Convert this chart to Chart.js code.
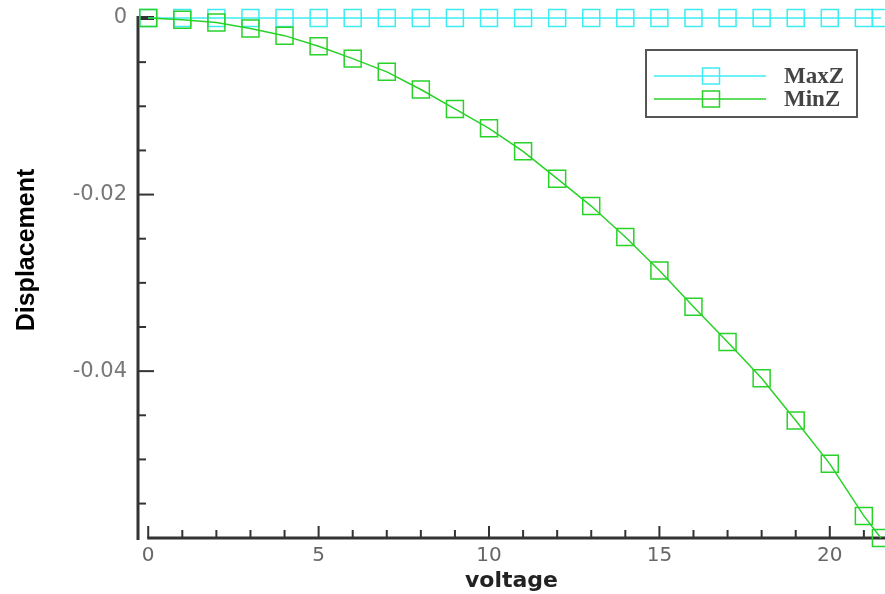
<!DOCTYPE html>
<html>
<head>
<meta charset="utf-8">
<script src="https://cdn.jsdelivr.net/npm/chart.js@4.4.0/dist/chart.umd.min.js"></script>
<style>
  body { margin: 0; background: #fff; }
  #wrap { width: 885px; height: 594px; }
</style>
</head>
<body>
<div id="wrap"><canvas id="myChart" width="885" height="594"></canvas></div>
<script>
// dati
var voltage = [0, 1, 2, 3, 4, 5, 6, 7, 8, 9, 10, 11, 12, 13, 14, 15, 16, 17, 18, 19, 20, 21, 21.5];
var maxZ = [0, 0, 0, 0, 0, 0, 0, 0, 0, 0, 0, 0, 0, 0, 0, 0, 0, 0, 0, 0, 0, 0, 0];
var minZ = [0, -0.0002, -0.0005, -0.0012, -0.0020, -0.0032, -0.0046, -0.0061, -0.0081, -0.0103,
            -0.0125, -0.0151, -0.0182, -0.0213, -0.0248, -0.0286, -0.0327, -0.0367, -0.0408,
            -0.0456, -0.0505, -0.0564, -0.0589];
var seriesNames = ['MaxZ', 'MinZ'];
var xTicks = [0, 5, 10, 15, 20];
var yTicks = [0, -0.02, -0.04];

var ciano = 'rgb(60,236,240)';
var verde = 'rgb(40,210,40)';

function punti(xs, ys) {
  var out = [];
  for (var i = 0; i < xs.length; i++) {
    out.push({x: xs[i], y: ys[i]});
  }
  return out;
}

// assi, tacche e titolo verticale
var assiPlugin = {
  id: 'assi',
  beforeDatasetsDraw: function(chart) {
    var ctx = chart.ctx;
    var a = chart.chartArea;
    var xs = chart.scales.x;
    var ys = chart.scales.y;
    ctx.save();
    ctx.strokeStyle = '#333';
    ctx.lineWidth = 3;
    ctx.beginPath();
    ctx.moveTo(a.left, a.top - 2);
    ctx.lineTo(a.left, a.bottom + 2);
    ctx.stroke();
    ctx.beginPath();
    ctx.moveTo(xs.getPixelForValue(0) - 1, a.bottom);
    ctx.lineTo(a.right, a.bottom);
    ctx.stroke();

    ctx.lineWidth = 2;
    for (var v = 0; v <= xs.max; v++) {
      var px = xs.getPixelForValue(v);
      var len = (v % 5 === 0) ? 12 : 8;
      ctx.beginPath();
      ctx.moveTo(px, a.bottom);
      ctx.lineTo(px, a.bottom - len);
      ctx.stroke();
    }
    for (var k = 0; k * 0.005 <= -ys.min; k++) {
      var py = ys.getPixelForValue(-k * 0.005);
      var l = (k % 4 === 0) ? 16 : 8;
      ctx.lineWidth = (k === 0) ? 4 : 2;
      ctx.beginPath();
      ctx.moveTo(a.left, py);
      ctx.lineTo(a.left + l, py);
      ctx.stroke();
    }

    ctx.translate(27, 250);
    ctx.rotate(-Math.PI / 2);
    ctx.fillStyle = '#000';
    ctx.font = 'bold 25px "Liberation Sans"';
    ctx.textAlign = 'center';
    ctx.textBaseline = 'middle';
    ctx.fillText('Displacement', 0, 0);
    ctx.restore();
  }
};

// legenda stile tecplot
var legendaPlugin = {
  id: 'legenda',
  afterDraw: function(chart) {
    var ctx = chart.ctx;
    ctx.save();
    ctx.strokeStyle = '#555';
    ctx.lineWidth = 2;
    ctx.strokeRect(646, 50, 211, 67);
    var righe = [76, 99];
    chart.data.datasets.forEach(function(ds, i) {
      var y = righe[i];
      ctx.strokeStyle = ds.borderColor;
      ctx.lineWidth = 1.5;
      ctx.beginPath();
      ctx.moveTo(654, y);
      ctx.lineTo(766, y);
      ctx.stroke();
      ctx.strokeRect(711 - 8.5, y - 8, 17, 16);
      ctx.fillStyle = '#444';
      ctx.font = 'bold 23px "Liberation Serif"';
      ctx.textAlign = 'left';
      ctx.textBaseline = 'middle';
      ctx.fillText(ds.label, 784, y + 1);
    });
    ctx.restore();
  }
};

function printChart() {
  var ctx = document.getElementById('myChart').getContext('2d');
  var chart = new Chart(ctx, {
    type: 'line',
    data: {
      datasets: [{
        label: seriesNames[0],
        data: punti(voltage, maxZ),
        borderColor: ciano,
        borderWidth: 1.5,
        pointStyle: 'rect',
        pointRadius: 12,
        pointBorderWidth: 1.5,
        pointBorderColor: ciano,
        pointBackgroundColor: 'rgba(0,0,0,0)',
        tension: 0,
        clip: false,
        order: 1
      }, {
        label: seriesNames[1],
        data: punti(voltage, minZ),
        borderColor: verde,
        borderWidth: 1.5,
        pointStyle: 'rect',
        pointRadius: 12,
        pointBorderWidth: 1.5,
        pointBorderColor: verde,
        pointBackgroundColor: 'rgba(0,0,0,0)',
        tension: 0,
        clip: false,
        order: 0
      }]
    },
    options: {
      responsive: false,
      animation: false,
      layout: { autoPadding: false, padding: { top: 18, right: 0, left: 0, bottom: 0 } },
      plugins: {
        legend: { display: false },
        tooltip: { enabled: false }
      },
      scales: {
        x: {
          type: 'linear',
          min: -0.3,
          max: 21.62,
          grid: { display: false, drawTicks: false },
          border: { display: false },
          afterBuildTicks: function(scale) {
            scale.ticks = xTicks.map(function(v) { return {value: v}; });
          },
          afterFit: function(scale) {
            scale.height = 56;
            scale.paddingLeft = 0;
            scale.paddingRight = 0;
          },
          ticks: {
            autoSkip: false,
            maxRotation: 0,
            padding: 6,
            color: '#666',
            font: { family: 'DejaVu Sans', size: 20 },
            callback: function(v) { return String(v); }
          },
          title: {
            display: true,
            text: 'voltage',
            color: '#222',
            font: { family: 'DejaVu Sans', size: 22, weight: 'bold' },
            padding: { top: 0, bottom: 0 }
          }
        },
        y: {
          type: 'linear',
          min: -0.0589,
          max: 0,
          grid: { display: false, drawTicks: false },
          border: { display: false },
          afterBuildTicks: function(scale) {
            scale.ticks = yTicks.map(function(v) { return {value: v}; });
          },
          afterFit: function(scale) {
            scale.width = 138;
            scale.paddingTop = 0;
            scale.paddingBottom = 0;
          },
          ticks: {
            padding: 11,
            color: '#777',
            font: { family: 'DejaVu Sans', size: 21 },
            callback: function(v) { return String(v); }
          }
        }
      }
    },
    plugins: [assiPlugin, legendaPlugin]
  });
}

printChart();
</script>
</body>
</html>
